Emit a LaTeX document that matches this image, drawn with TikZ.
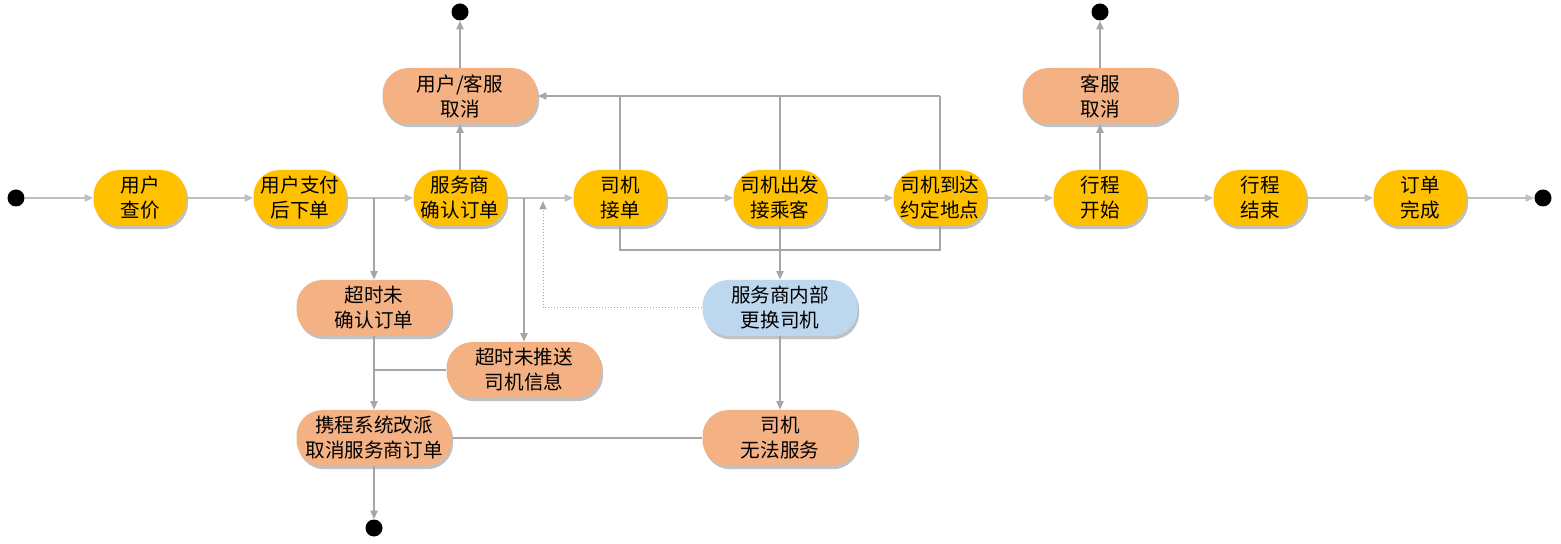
\documentclass[tikz,border=0pt]{standalone}
\usepackage{fontspec}
\setmainfont{Noto Sans CJK SC}
\usetikzlibrary{arrows.meta,shadows}
\definecolor{yel}{HTML}{FFC000}
\definecolor{ora}{HTML}{F4B183}
\definecolor{blu}{HTML}{BDD7EE}
\definecolor{lgray}{HTML}{BFBFBF}
\definecolor{mgray}{HTML}{A6A6A6}
\tikzset{
  base/.style={draw=none, minimum height=28pt, rounded corners=13pt, align=center,
    inner sep=1pt, font=\fontsize{9.8pt}{12.5pt}\selectfont,
    drop shadow={shadow xshift=0.8pt, shadow yshift=-1.6pt, opacity=0.35, fill=black!70}},
  ystate/.style={base, fill=yel, minimum width=46.5pt},
  ostate/.style={base, fill=ora, minimum width=77.5pt},
  bstate/.style={base, fill=blu, minimum width=77.5pt},
  dotnode/.style={circle, fill=black, minimum size=8.5pt, inner sep=0pt},
  flow/.style={draw=lgray, line width=0.6pt, -{Triangle[width=3.6pt,length=4.2pt]}},
  vflow/.style={draw=mgray, line width=0.6pt, -{Triangle[width=3.6pt,length=4.2pt]}},
  link/.style={draw=mgray, line width=0.6pt},
}
\begin{document}
\begin{tikzpicture}[x=0.5pt,y=-0.5pt]
\useasboundingbox (0,0) rectangle (1561,544);
% main row
\node[dotnode] (s) at (16,198) {};
\node[ystate] (n1) at (140,198) {用户\\查价};
\node[ystate] (n2) at (300,198) {用户支付\\后下单};
\node[ystate] (n3) at (460,198) {服务商\\确认订单};
\node[ystate] (n4) at (620,198) {司机\\接单};
\node[ystate] (n5) at (780,198) {司机出发\\接乘客};
\node[ystate] (n6) at (940,198) {司机到达\\约定地点};
\node[ystate] (n7) at (1100,198) {行程\\开始};
\node[ystate] (n8) at (1260,198) {行程\\结束};
\node[ystate] (n9) at (1420,198) {订单\\完成};
\node[dotnode] (f) at (1543,198) {};
% cancels
\node[ostate] (c1) at (460,96) {用户/客服\\取消};
\node[dotnode] (e1) at (460,12) {};
\node[ostate] (c2) at (1100,96) {客服\\取消};
\node[dotnode] (e2) at (1100,12) {};
% lower
\node[ostate] (t1) at (374,308) {超时未\\确认订单};
\node[ostate] (t2) at (524,370) {超时未推送\\司机信息};
\node[ostate] (x1) at (374,438) {携程系统改派\\取消服务商订单};
\node[dotnode] (e3) at (374,528) {};
\node[bstate] (r1) at (780,308) {服务商内部\\更换司机};
\node[ostate] (r2) at (780,438) {司机\\无法服务};
% junctions
\coordinate (j1) at (374,198);
\coordinate (j2) at (524,198);
\coordinate (j3) at (374,370);
\coordinate (k4) at (620,96);
\coordinate (k5) at (780,96);
\coordinate (k6) at (940,96);
\coordinate (b4) at (620,250);
\coordinate (b6) at (940,250);
\coordinate (d1) at (543,201);
% main flow
\draw[flow] (s) -- (n1);
\draw[flow] (n1) -- (n2);
\draw[flow] (n2) -- (n3);
\draw[flow] (n3) -- (n4);
\draw[flow] (n4) -- (n5);
\draw[flow] (n5) -- (n6);
\draw[flow] (n6) -- (n7);
\draw[flow] (n7) -- (n8);
\draw[flow] (n8) -- (n9);
\draw[flow] (n9) -- (f);
% up branches
\draw[vflow] (n3) -- (c1);
\draw[vflow] (c1) -- (e1);
\draw[vflow] (n7) -- (c2);
\draw[vflow] (c2) -- (e2);
% top loop
\draw[link] (n4.north) -- (k4);
\draw[link] (n5.north) -- (k5);
\draw[link] (n6.north) -- (k6);
\draw[vflow] (k6) -- (c1.east);
% bottom loop
\draw[link] (n4.south) -- (b4) -- (b6) -- (n6.south);
\draw[vflow] (n5) -- (r1);
\draw[vflow] (r1) -- (r2);
\draw[link] (r2) -- (x1);
\draw[draw=mgray, line width=0.5pt, densely dotted, -{Triangle[width=3.6pt,length=4.2pt]}] (r1.west) -| (d1);
% left branches
\draw[vflow] (j1) -- (t1);
\draw[vflow] (j2) -- (t2);
\draw[vflow] (t1) -- (x1);
\draw[link] (t2.west) -- (j3);
\draw[vflow] (x1) -- (e3);
\end{tikzpicture}
\end{document}
